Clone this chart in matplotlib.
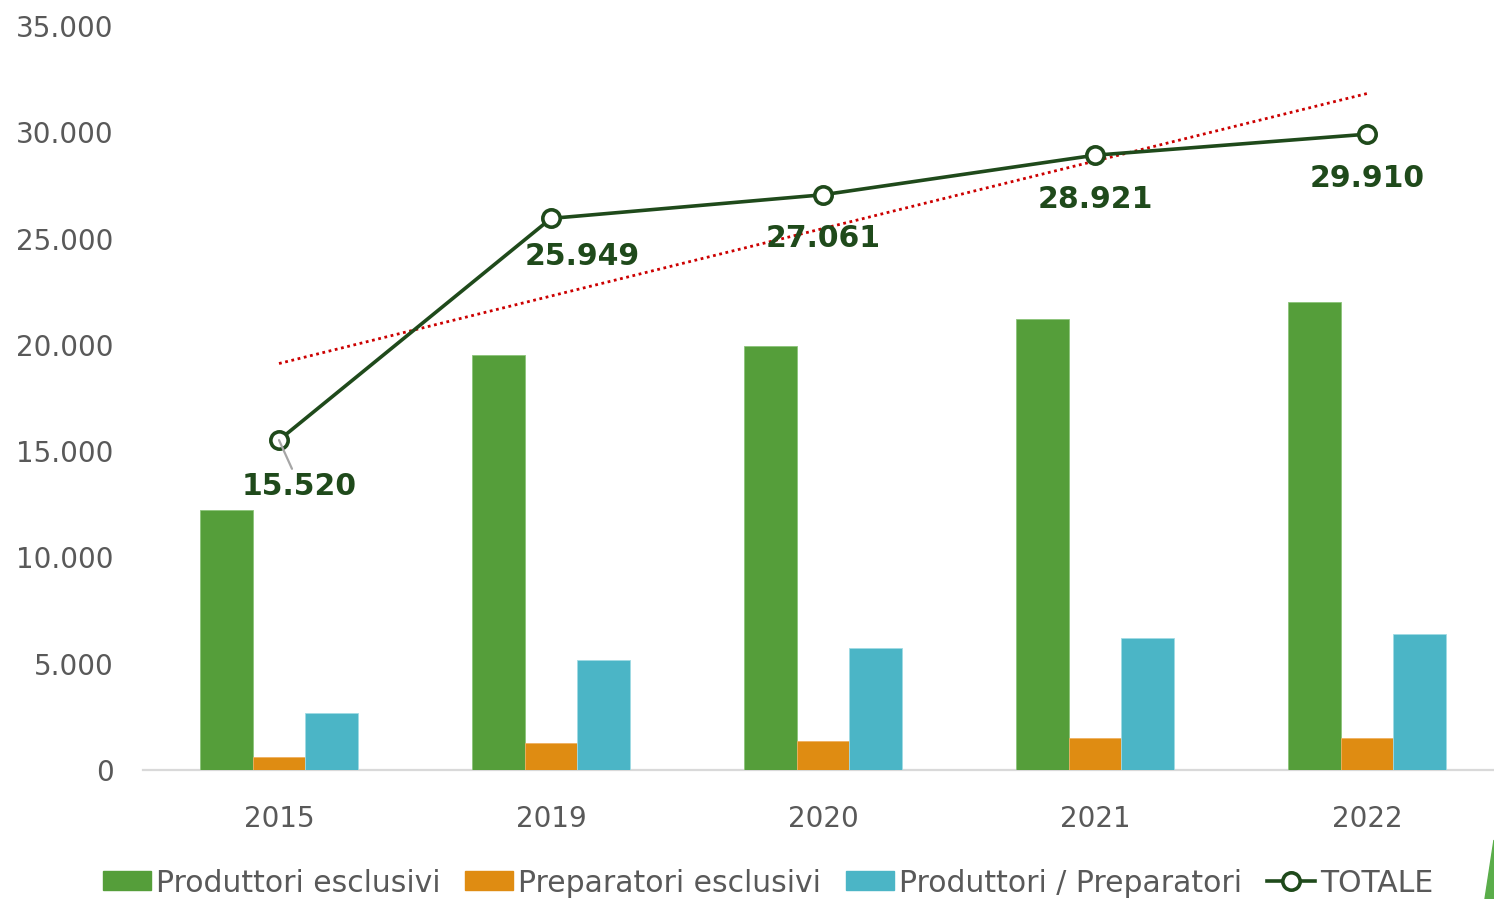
import matplotlib
matplotlib.use("Agg")
import matplotlib.pyplot as plt
import numpy as np
from matplotlib.patches import Patch, Polygon
from matplotlib.lines import Line2D
from matplotlib.ticker import FuncFormatter

years = ["2015", "2019", "2020", "2021", "2022"]
produttori_esclusivi = [12230, 19500, 19960, 21220, 22010]
preparatori_esclusivi = [590, 1280, 1370, 1490, 1500]
produttori_preparatori = [2700, 5170, 5730, 6210, 6400]
totale = [15520, 25949, 27061, 28921, 29910]
totale_labels = ["15.520", "25.949", "27.061", "28.921", "29.910"]
series_names = ["Produttori esclusivi", "Preparatori esclusivi", "Produttori / Preparatori", "TOTALE"]

c_green = "#559e3a"
c_orange = "#df8c12"
c_cyan = "#4bb5c6"
c_line = "#1f4a1b"
c_trend = "#cc0000"
c_text = "#595959"

plt.rcParams['font.family'] = ['DejaVu Sans']

fig = plt.figure(figsize=(14.94, 8.99), dpi=100)
ax = fig.add_axes([143/1494, 129/899, 1 - 143/1494, 744/899])

x = np.arange(len(years))
w = 0.193
ax.bar(x - w, produttori_esclusivi, w, color=c_green, edgecolor="#8cc47a", linewidth=0.6, zorder=2)
ax.bar(x, preparatori_esclusivi, w, color=c_orange, edgecolor="#f0b060", linewidth=0.6, zorder=2)
ax.bar(x + w, produttori_preparatori, w, color=c_cyan, edgecolor="#a0dbe4", linewidth=0.6, zorder=2)

# linear trend line of TOTALE
coef = np.polyfit(x, totale, 1)
ax.plot(x, np.polyval(coef, x), linestyle=(0, (1, 1.3)), color=c_trend, linewidth=2.0, zorder=3)

ax.plot(x, totale, color=c_line, linewidth=2.6, marker="o", markersize=12.5,
        markerfacecolor="white", markeredgecolor=c_line, markeredgewidth=2.6, zorder=5)

offsets_px = [(20, -46), (31, -38), (0, -44), (0, -44), (0, -44)]
for i, (xi, yi) in enumerate(zip(x, totale)):
    dx, dy = offsets_px[i]
    kw = {}
    if i == 0:
        kw["arrowprops"] = dict(arrowstyle="-", color="#a6a6a6", lw=1.6, shrinkA=0, shrinkB=0,
                                relpos=(0.45, 1.0))
    ax.annotate(totale_labels[i], xy=(xi, yi), xytext=(dx * 0.72, dy * 0.72), textcoords="offset points",
                ha="center", va="center", fontsize=21.5, fontweight="bold", color=c_line, zorder=6, **kw)

ax.set_xlim(-0.5, 4.467)
ax.set_ylim(0, 35000)
ax.set_yticks(np.arange(0, 35001, 5000))
ax.yaxis.set_major_formatter(FuncFormatter(lambda v, p: f"{int(v):,}".replace(",", ".")))
ax.set_xticks(x)
ax.set_xticklabels(years)
ax.tick_params(axis="both", length=0, labelsize=20, labelcolor=c_text)
ax.tick_params(axis="y", pad=21)
ax.tick_params(axis="x", pad=25.5)
for s in ["top", "right", "left"]:
    ax.spines[s].set_visible(False)
ax.spines["bottom"].set_color("#d9d9d9")
ax.spines["bottom"].set_linewidth(1.6)
ax.spines["bottom"].set_zorder(1)

handles = [Patch(color=c_green), Patch(color=c_orange), Patch(color=c_cyan),
           Line2D([0], [0], color=c_line, lw=2.6, marker="o", markersize=12.5,
                  markerfacecolor="white", markeredgecolor=c_line, markeredgewidth=2.6)]
leg = fig.legend(handles, series_names, ncol=4, loc="center", bbox_to_anchor=(768/1494, 16/899),
                 frameon=False, fontsize=21.5, handlelength=1.6, handleheight=0.6,
                 handletextpad=0.17, columnspacing=0.84, labelcolor=c_text, borderpad=0, borderaxespad=0)

tri = Polygon([[1485/1494, 0], [1.0, 59/899], [1.0, 0]], closed=True, transform=fig.transFigure,
              color="#5aad4a", zorder=10)
fig.patches.append(tri)

fig.savefig("out.png", dpi=100, facecolor="white")
